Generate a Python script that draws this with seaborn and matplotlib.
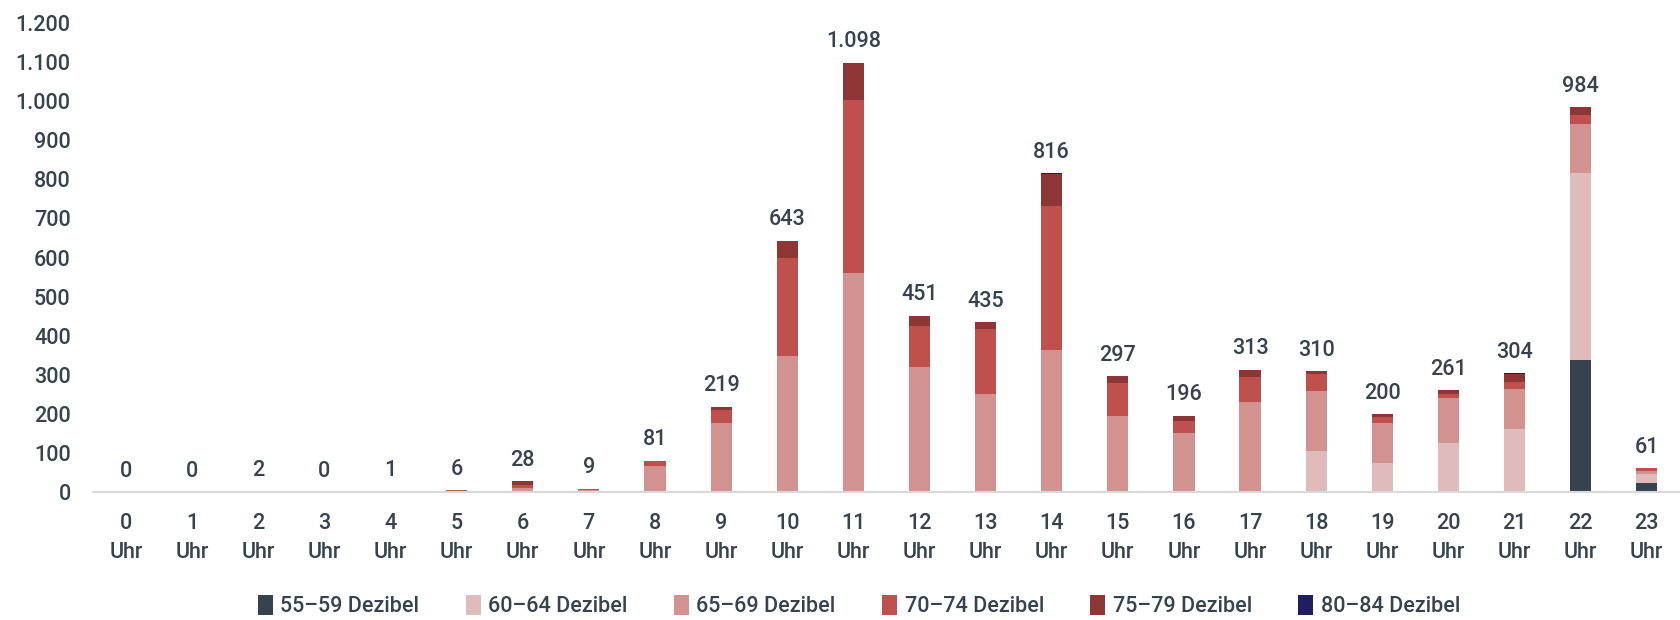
import pandas as pd
import matplotlib.pyplot as plt
import seaborn as sns
from matplotlib.patches import Patch

hours = list(range(24))
hour_labels = [f"{h}\nUhr" for h in hours]

levels = ["55–59 Dezibel", "60–64 Dezibel", "65–69 Dezibel",
          "70–74 Dezibel", "75–79 Dezibel", "80–84 Dezibel"]
level_colors = ["#36434f", "#e0bbbb", "#d29290", "#c0504d", "#8e3535", "#1f1f5f"]

db_55 = [0, 0, 0, 0, 0, 0, 0, 0, 0, 0, 0, 0, 0, 0, 0, 0, 0, 0, 0, 0, 0, 0, 338, 25]
db_60 = [0, 0, 0, 0, 0, 0, 0, 0, 0, 0, 0, 0, 0, 0, 0, 0, 0, 0, 105, 76, 125, 162, 478, 22]
db_65 = [0, 0, 2, 0, 1, 4, 11, 5, 66, 176, 349, 561, 320, 252, 364, 196, 152, 232, 153, 102, 115, 103, 125, 7]
db_70 = [0, 0, 0, 0, 0, 2, 8, 3, 15, 35, 250, 441, 106, 166, 369, 84, 29, 64, 45, 14, 12, 17, 23, 7]
db_75 = [0, 0, 0, 0, 0, 0, 9, 1, 0, 7, 43, 96, 25, 17, 80, 17, 15, 17, 7, 8, 9, 21, 20, 0]
db_80 = [0, 0, 0, 0, 0, 0, 0, 0, 0, 1, 1, 0, 0, 0, 3, 0, 0, 0, 0, 0, 0, 1, 0, 0]

series = [db_55, db_60, db_65, db_70, db_75, db_80]

df = pd.concat(
    [pd.DataFrame({"hour": hours, "level": lvl, "count": vals}) for lvl, vals in zip(levels, series)],
    ignore_index=True,
)
totals = df.groupby("hour")["count"].sum()

text_col = "#36424e"
sns.set_style("white")
plt.rcParams["font.family"] = ["Roboto", "DejaVu Sans"]
plt.rcParams["font.size"] = 15.5
plt.rcParams["font.weight"] = "medium"

fig = plt.figure(figsize=(16.81, 6.2), dpi=100)
ax = fig.add_axes([0.0553, 0.206, 0.944, 0.757])

palette = dict(zip(levels, level_colors))
# seaborn stacks the first hue level on top, so reverse the order
sns.histplot(data=df, x="hour", weights="count", hue="level", hue_order=levels[::-1],
             multiple="stack", discrete=True, shrink=0.32, palette=palette,
             alpha=1, linewidth=0, legend=False, ax=ax)

for h, t in totals.items():
    ax.annotate(f"{t:,}".replace(",", "."), (h, t), xytext=(0, 7.5), textcoords="offset points",
                ha="center", va="bottom", color=text_col, fontsize=15.5, fontweight="medium")

ax.set_xlim(-0.5, 23.5)
ax.set_ylim(0, 1200)
ax.set_yticks(range(0, 1201, 100))
ax.set_yticklabels([f"{v:,}".replace(",", ".") for v in range(0, 1201, 100)])
ax.set_xticks(hours)
ax.set_xticklabels(hour_labels, linespacing=1.5)
ax.tick_params(axis="both", length=0, colors=text_col, labelsize=15.5)
ax.tick_params(axis="y", pad=16)
ax.tick_params(axis="x", pad=15)
ax.set_xlabel("")
ax.set_ylabel("")
for s in ["top", "right", "left"]:
    ax.spines[s].set_visible(False)
ax.spines["bottom"].set_color("#d9d9d9")
ax.spines["bottom"].set_linewidth(1.5)

handles = [Patch(facecolor=c, edgecolor="none") for c in level_colors]
fig.legend(handles, levels, loc="center", bbox_to_anchor=(0.511, 0.022), ncol=6, frameon=False,
           handlelength=0.7, handleheight=1.0, handletextpad=0.35, columnspacing=2.15,
           labelcolor=text_col, fontsize=15.5)

fig.savefig("out.png", dpi=100)
